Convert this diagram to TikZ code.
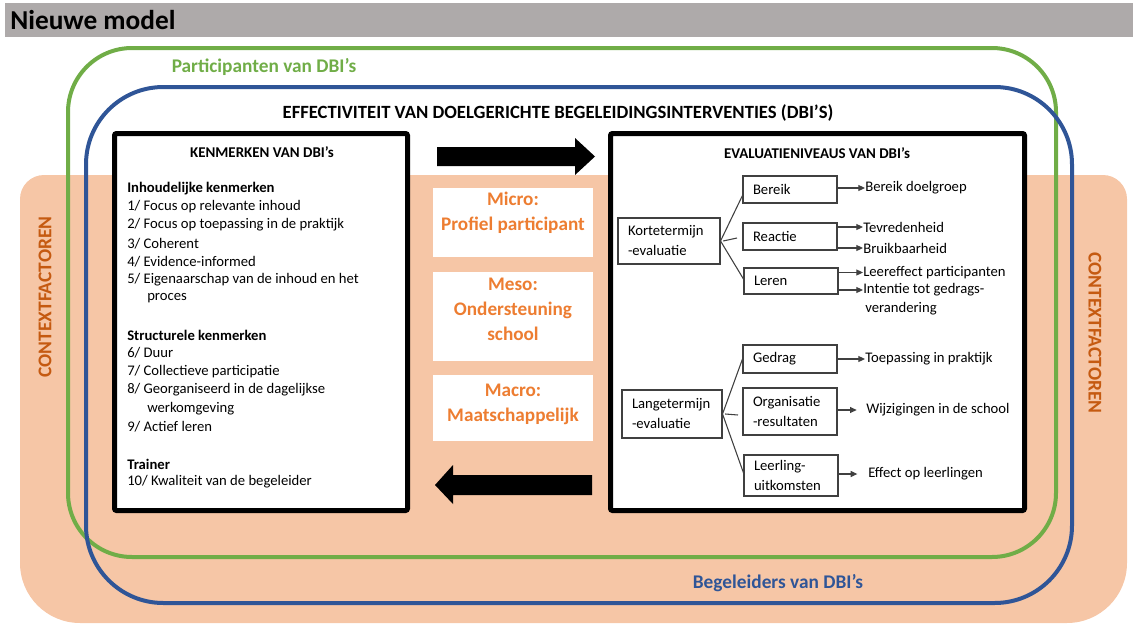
\documentclass[tikz,border=0pt]{standalone}
\usepackage{fontspec}
\setmainfont{Carlito}
\usetikzlibrary{arrows.meta}
\definecolor{peach}{HTML}{F6C6A6}
\definecolor{barcol}{HTML}{AEAAAA}
\definecolor{grn}{HTML}{70AD47}
\definecolor{blu}{HTML}{2F5597}
\definecolor{ctx}{HTML}{C55A11}
\definecolor{lvlorange}{HTML}{ED7D31}
\definecolor{boxgray}{HTML}{404040}
\tikzset{
  bigbox/.style={draw=black, line width=3.75pt, fill=white, rounded corners=1.5pt, inner sep=0pt},
  lst/.style={anchor=west, inner sep=0pt, font=\fontsize{11}{13}\selectfont},
  lsth/.style={anchor=west, inner sep=0pt, font=\fontsize{11}{13}\selectfont\bfseries},
  hdr/.style={inner sep=0pt, font=\fontsize{11.2}{13}\selectfont\bfseries},
  tb/.style={draw=boxgray, line width=0.8pt, align=left, inner xsep=7.5pt, inner ysep=0pt, font=\fontsize{11}{15}\selectfont},
  conn/.style={draw=boxgray, line width=0.8pt},
  sarr/.style={conn, -{Triangle[length=5pt,width=4.5pt]}},
  outtxt/.style={anchor=west, inner sep=0pt, font=\fontsize{11}{13}\selectfont},
  lvlbox/.style={fill=white, inner sep=0pt, minimum width=120pt},
  lvltxt/.style={align=center, inner sep=0pt, text=lvlorange, font=\fontsize{14.4}{18.8}\selectfont\bfseries},
  ctxtxt/.style={inner sep=0pt, text=ctx, font=\fontsize{14.6}{16}\selectfont\bfseries},
  blockarrow/.style={fill=black}
}
\begin{document}
\begin{tikzpicture}[x=0.75pt,y=-0.75pt]
\useasboundingbox (0,0) rectangle (1133,625);
% title bar
\fill[barcol] (5,3) rectangle (1133,37);
\node[anchor=west, inner sep=0pt, font=\fontsize{20.5}{23}\selectfont\bfseries] (title) at (10,20) {Nieuwe model};
% context background
\fill[peach] (573,175) [rounded corners=18pt] -- (1127,175) -- (1127,400) [rounded corners=45pt] -- (1127,623) -- (20,623) -- (20,400) [rounded corners=18pt] -- (20,175) -- cycle;
% participant and coach frames
\draw[grn, line width=3pt, rounded corners=48pt] (68,48) rectangle (1056,557);
\draw[blu, line width=3pt, rounded corners=58pt] (86,87) rectangle (1072,603);
\node[inner sep=0pt, text=grn, font=\fontsize{14.5}{16}\selectfont\bfseries] (part) at (264,67) {Participanten van DBI’s};
\node[inner sep=0pt, text=blu, font=\fontsize{14.5}{16}\selectfont\bfseries] (beg) at (778,583) {Begeleiders van DBI’s};
\node[ctxtxt, rotate=90] (ctxl) at (45,297) {CONTEXTFACTOREN};
\node[ctxtxt, rotate=-90] (ctxr) at (1095,333) {CONTEXTFACTOREN};
\node[inner sep=0pt, font=\fontsize{14}{16}\selectfont\bfseries] (main) at (558,113) {EFFECTIVITEIT VAN DOELGERICHTE BEGELEIDINGSINTERVENTIES (DBI’S)};
% big boxes
\node[bigbox, minimum width=219.75pt, minimum height=282.75pt] (kb) at (261,322) {};
\node[bigbox, minimum width=310.5pt, minimum height=282.75pt] (eb) at (817.5,322) {};
% block arrows
\fill[blockarrow] (437,147) -- (575,147) -- (575,138) -- (595,156.5) -- (575,175) -- (575,166) -- (437,166) -- cycle;
\fill[blockarrow] (592,475) -- (453,475) -- (453,465) -- (435,485) -- (453,504) -- (453,495) -- (592,495) -- cycle;
% levels
\node[lvlbox, minimum height=51.75pt] (microbox) at (513,222.5) {};
\node[lvltxt] (micro) at (513,213) {Micro:\\Profiel participant};
\node[lvlbox, minimum height=66.75pt] (mesobox) at (513,316.5) {};
\node[lvltxt] (meso) at (513,309) {Meso:\\Ondersteuning\\school};
\node[lvlbox, minimum height=49.5pt] (macrobox) at (513,408) {};
\node[lvltxt] (macro) at (513,404.5) {Macro:\\Maatschappelijk};
% left list
\node[hdr] (kh) at (262,152) {KENMERKEN VAN DBI’s};
\node[lsth] (l1) at (127,189) {Inhoudelijke kenmerken};
\node[lst] (l2) at (127,207) {1/ Focus op relevante inhoud};
\node[lst] (l3) at (127,225) {2/ Focus op toepassing in de praktijk};
\node[lst] (l4) at (127,243.5) {3/ Coherent};
\node[lst] (l5) at (127,262) {4/ Evidence-informed};
\node[lst] (l6) at (127,280) {5/ Eigenaarschap van de inhoud en het};
\node[lst] (l7) at (147,298.5) {proces};
\node[lsth] (l8) at (127,335) {Structurele kenmerken};
\node[lst] (l9) at (127,353) {6/ Duur};
\node[lst] (l10) at (127,372) {7/ Collectieve participatie};
\node[lst] (l11) at (127,390) {8/ Georganiseerd in de dagelijkse};
\node[lst] (l12) at (147,408.5) {werkomgeving};
\node[lst] (l13) at (127,427) {9/ Actief leren};
\node[lsth] (l14) at (127,464) {Trainer};
\node[lst] (l15) at (127,482) {10/ Kwaliteit van de begeleider};
% right tree
\node[hdr] (eh) at (817,153) {EVALUATIENIVEAUS VAN DBI’s};
\node[tb, text width=61.5pt, minimum height=34.5pt] (korte) at (669,241) {Kortetermijn\\-evaluatie};
\node[tb, text width=55.5pt, minimum height=20.25pt] (bereik) at (790,189.5) {Bereik};
\node[tb, text width=55.5pt, minimum height=20.25pt] (reactie) at (790,236.5) {Reactie};
\node[tb, text width=55.5pt, minimum height=19.5pt, text depth=-3pt] (leren) at (791,281) {Leren};
\node[tb, text width=60pt, minimum height=36pt] (lange) at (672,414) {Langetermijn\\-evaluatie};
\node[tb, text width=55.5pt, minimum height=21pt] (gedrag) at (790,359) {Gedrag};
\node[tb, text width=55.5pt, minimum height=35.25pt] (org) at (790,411.5) {Organisatie\\-resultaten};
\node[tb, text width=55.5pt, minimum height=30.75pt] (leerl) at (791,475.5) {Leerling-\\uitkomsten};
\coordinate (kmid) at (737,238);
\coordinate (lmid) at (738,415);
\draw[conn] (korte.east) -- ([yshift=-4.5pt]bereik.west);
\draw[conn] ([xshift=2pt]korte.east) -- (kmid);
\draw[conn] (korte.east) -- ([yshift=1.5pt]leren.west);
\draw[conn] (lange.east) -- (gedrag.west);
\draw[conn] ([xshift=2pt]lange.east) -- (lmid);
\draw[conn] (lange.east) -- ([yshift=2pt]leerl.west);
% outcomes
\node[outtxt] (o1) at (865,188) {Bereik doelgroep};
\node[outtxt] (o2) at (863,227) {Tevredenheid};
\node[outtxt] (o3) at (863,248) {Bruikbaarheid};
\node[outtxt] (o4) at (863,272.5) {Leereffect participanten};
\node[outtxt] (o5) at (863,290) {Intentie tot gedrags-};
\node[outtxt] (o5b) at (865,309) {verandering};
\node[outtxt] (o6) at (865,359) {Toepassing in praktijk};
\node[outtxt] (o7) at (866,410) {Wijzigingen in de school};
\node[outtxt] (o8) at (868,474) {Effect op leerlingen};
\draw[sarr] (bereik.east |- o1) -- (o1.west);
\draw[sarr] (reactie.east |- o2) -- (o2.west);
\draw[sarr] (reactie.east |- o3) -- (o3.west);
\draw[sarr] (leren.east |- o4) -- (o4.west);
\draw[sarr] (leren.east |- o5) -- (o5.west);
\draw[sarr] (gedrag.east |- o6) -- (o6.west);
\draw[sarr] (org.east |- o7) -- ([xshift=-7pt]o7.west);
\draw[sarr] (leerl.east |- o8) -- ([xshift=-8pt]o8.west);
\end{tikzpicture}
\end{document}
